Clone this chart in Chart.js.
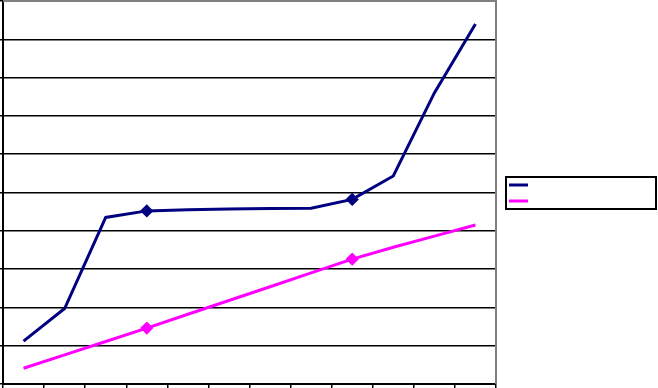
<!DOCTYPE html>
<html>
<head>
<meta charset="utf-8">
<script src="https://cdn.jsdelivr.net/npm/chart.js@4/dist/chart.umd.min.js"></script>
<style>
    html, body {margin: 0; padding: 0; background: #fff;}
    #wrap {width: 658px; height: 388px;}
</style>
</head>
<body>
<div id="wrap"><canvas id="chart"></canvas></div>
<script>
/* ─────────────────────────────────────────
   DATA
───────────────────────────────────────── */
const categories = ['1', '2', '3', '4', '5', '6', '7', '8', '9', '10', '11', '12'];
const seriesA = [1.12, 1.97, 4.35, 4.52, 4.55, 4.57, 4.58, 4.59, 4.82, 5.43, 7.6, 9.4];
const seriesB = [0.41, 0.76, 1.11, 1.46, 1.82, 2.18, 2.54, 2.90, 3.26, 3.57, 3.86, 4.15];
const markerIdx = [3, 8];
const yTicks = [0, 1, 2, 3, 4, 5, 6, 7, 8, 9, 10];

/* ─────────────────────────────────────────
   PLUGINS — cadre gris + légende encadrée
───────────────────────────────────────── */
const frame = {
    id: 'frame',
    beforeDatasetsDraw(chart) {
        const {ctx, chartArea: a} = chart;
        ctx.save();
        ctx.strokeStyle = '#808080';
        ctx.lineWidth = 2;
        ctx.beginPath();
        ctx.moveTo(a.left, a.top);
        ctx.lineTo(a.right, a.top);
        ctx.lineTo(a.right, a.bottom);
        ctx.stroke();
        ctx.restore();
    }
};

const boxLegend = {
    id: 'boxLegend',
    afterDraw(chart) {
        const ctx = chart.ctx;
        ctx.save();
        ctx.strokeStyle = '#000';
        ctx.lineWidth = 2;
        ctx.strokeRect(506, 177, 150, 32);
        ctx.lineWidth = 3;
        chart.data.datasets.forEach((ds, i) => {
            const y = 185 + i * 16;
            ctx.strokeStyle = ds.borderColor;
            ctx.beginPath();
            ctx.moveTo(509, y);
            ctx.lineTo(528, y);
            ctx.stroke();
        });
        ctx.restore();
    }
};

/* ─────────────────────────────────────────
   CHART
───────────────────────────────────────── */
const markerRadius = c => markerIdx.includes(c.dataIndex) ? 4.5 : 0;

new Chart(document.getElementById('chart'), {
    type: 'line',
    data: {
        labels: categories,
        datasets: [
            {
                label: '',
                data: seriesA,
                borderColor: '#000080',
                backgroundColor: '#000080',
                borderWidth: 3,
                tension: 0,
                pointStyle: 'rectRot',
                pointRadius: markerRadius,
                pointHoverRadius: markerRadius,
            },
            {
                label: '',
                data: seriesB,
                borderColor: '#ff00ff',
                backgroundColor: '#ff00ff',
                borderWidth: 3,
                tension: 0,
                pointStyle: 'rectRot',
                pointRadius: markerRadius,
                pointHoverRadius: markerRadius,
            }
        ]
    },
    options: {
        responsive: true,
        maintainAspectRatio: false,
        animation: false,
        layout: {padding: {left: 0, top: 1, right: 162, bottom: 0}},
        plugins: {legend: {display: false}, tooltip: {enabled: false}},
        scales: {
            x: {
                offset: true,
                grid: {offset: true, drawOnChartArea: false, color: '#000', lineWidth: 1.5, tickLength: 4},
                border: {color: '#000', width: 2},
                ticks: {display: false}
            },
            y: {
                min: 0,
                max: 10,
                afterBuildTicks: s => { s.ticks = yTicks.map(v => ({value: v})); },
                grid: {color: '#000', lineWidth: 1.5, tickLength: 3},
                border: {color: '#000', width: 2},
                ticks: {display: false}
            }
        }
    },
    plugins: [frame, boxLegend]
});
</script>
</body>
</html>
